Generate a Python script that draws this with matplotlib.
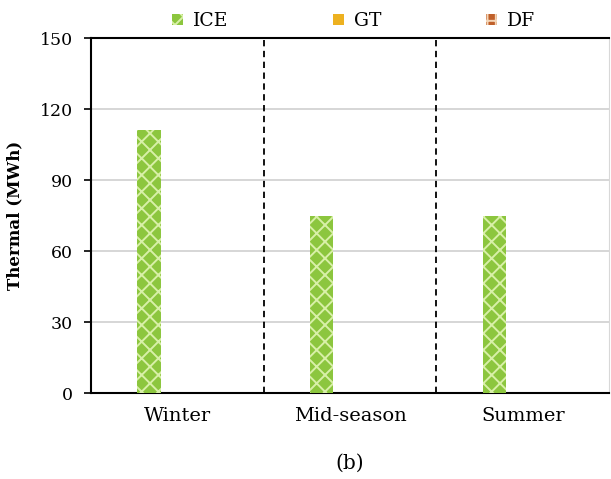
import numpy as np
import matplotlib
matplotlib.use("Agg")
import matplotlib.pyplot as plt

plt.rcParams['font.family'] = ['DejaVu Serif']
plt.rcParams['hatch.linewidth'] = 1.4

seasons = ["Winter", "Mid-season", "Summer"]
ice = [111, 75, 75]
gt = [0, 0, 0]
df = [0, 0, 0]

fig = plt.figure(figsize=(6.11, 4.79), dpi=100)
ax = fig.add_axes([0.149, 0.1795, 0.848, 0.741])

x = np.arange(len(seasons))
w = 0.135
ax.bar(x - 0.165, ice, w, facecolor='#8CC63E', edgecolor='#D8F0A8', hatch='xx',
       linewidth=0, label='ICE', zorder=3)
ax.bar(x, gt, w, facecolor='#EDB120', edgecolor='#EDB120', linewidth=0,
       label='GT', zorder=3)
ax.bar(x + 0.165, df, w, facecolor='#C0602A', edgecolor='#F4D6B8', hatch='++',
       linewidth=0, label='DF', zorder=3)

# separators between seasons
for b in [0.5, 1.5]:
    ax.axvline(b, color='black', linestyle=(0, (3.5, 2.5)), linewidth=1.3, zorder=2)

ax.set_xlim(-0.5, 2.5)
ax.set_ylim(0, 150)
ax.set_yticks(np.arange(0, 151, 30))
ax.yaxis.grid(True, color='#d0d0d0', linewidth=1.2, zorder=0)
ax.set_axisbelow(True)
ax.set_xticks(x)
ax.set_xticklabels(seasons)
ax.tick_params(axis='x', length=0, pad=10, labelsize=14)
ax.tick_params(axis='y', length=5, width=1.2, labelsize=12.5, pad=8)
for s in ['left', 'bottom', 'top']:
    ax.spines[s].set_linewidth(1.5)
ax.spines['right'].set_color('#d8d8d8')
ax.set_ylabel('Thermal (MWh)', fontweight='bold', fontsize=12, labelpad=12)
ax.set_xlabel('(b)', fontsize=14.5, labelpad=21)

fig.legend(loc='upper center', bbox_to_anchor=(0.579, 1.01), ncol=3, frameon=False,
           fontsize=13.5, handlelength=0.55, handleheight=0.6, handletextpad=0.55,
           columnspacing=5.6)

fig.savefig('out.png', dpi=100)
